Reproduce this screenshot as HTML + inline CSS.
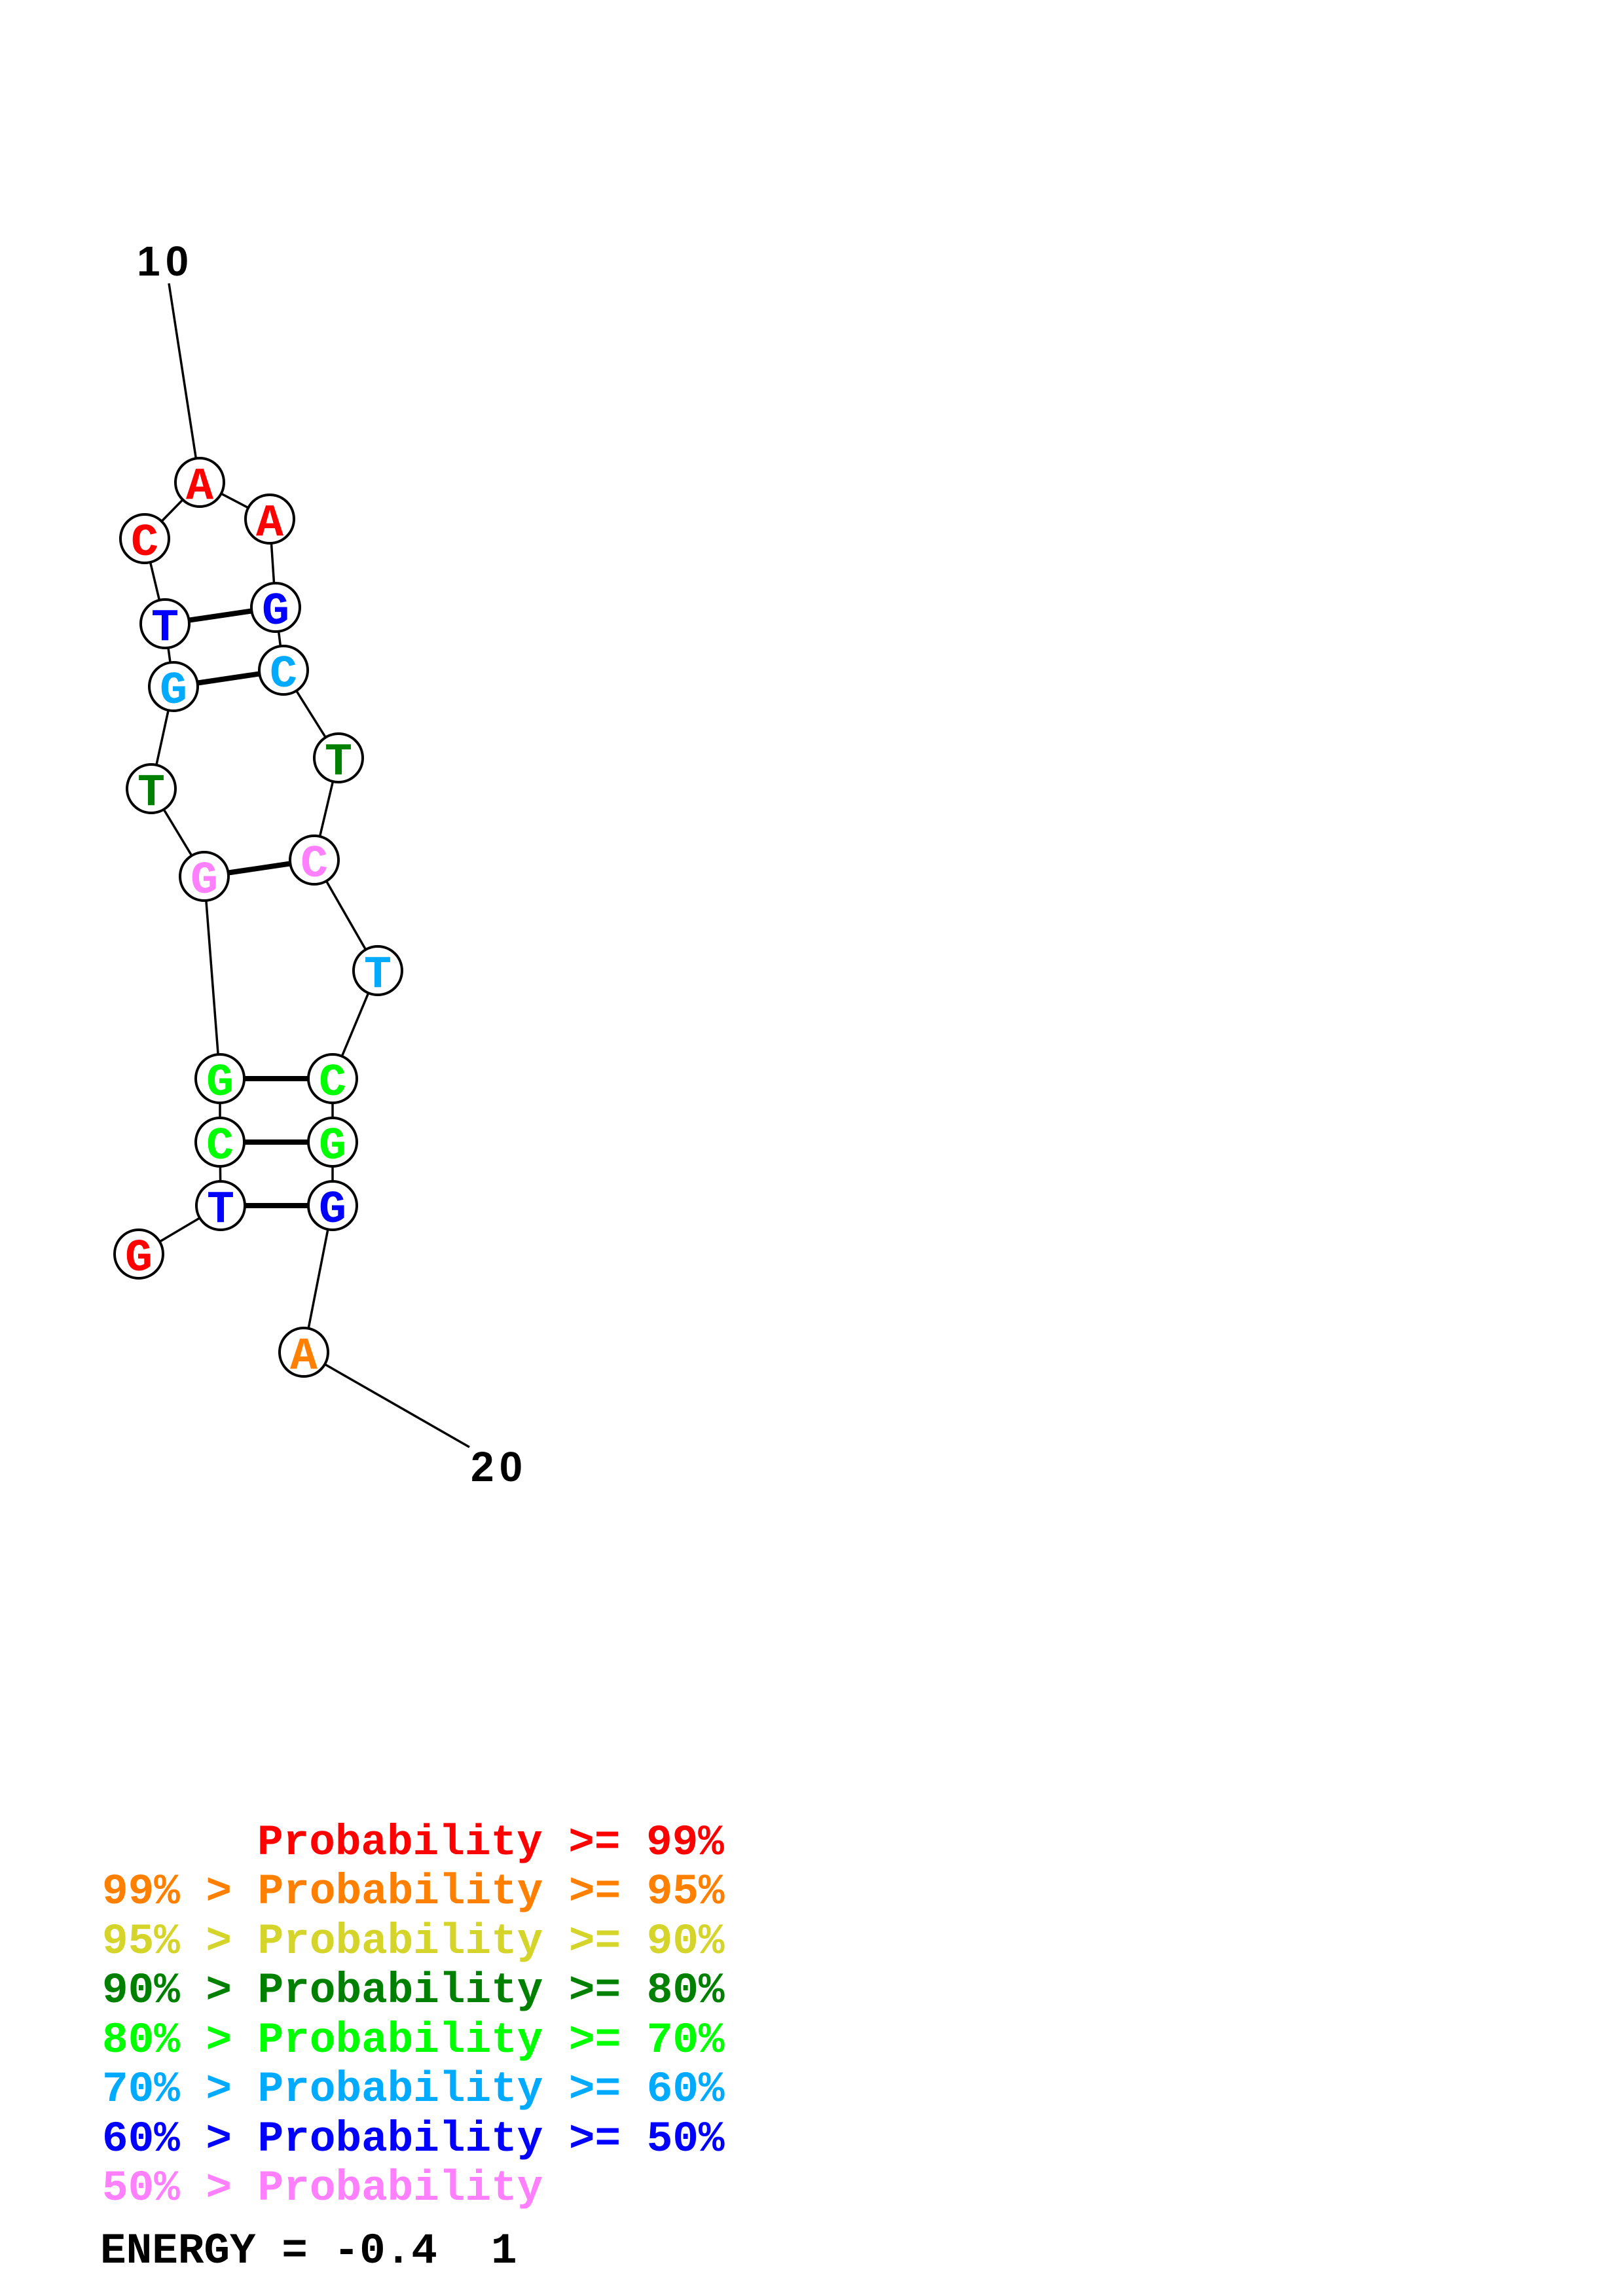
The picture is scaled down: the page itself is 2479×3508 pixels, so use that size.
<!DOCTYPE html>
<html><head><meta charset="utf-8"><style>
html,body{margin:0;padding:0;background:#fff;}
svg{display:block;}
.n{font-family:"Liberation Mono","DejaVu Sans Mono",monospace;font-weight:bold;font-size:70px;text-anchor:middle;}
.lg{font-family:"Liberation Mono","DejaVu Sans Mono",monospace;font-weight:bold;font-size:66px;}
.lb{font-family:"Liberation Sans","DejaVu Sans",sans-serif;font-weight:bold;font-size:64px;letter-spacing:8px;}
</style></head><body>
<svg width="2479" height="3508" viewBox="0 0 2479 3508" xmlns="http://www.w3.org/2000/svg" xml:space="preserve">
<g stroke="#000" stroke-width="3.5" fill="none">
<line x1="258" y1="433" x2="305" y2="737"/>
<line x1="305" y1="737" x2="221" y2="823"/>
<line x1="221" y1="823" x2="252" y2="953"/>
<line x1="252" y1="953" x2="265" y2="1049"/>
<line x1="265" y1="1049" x2="231" y2="1205"/>
<line x1="231" y1="1205" x2="312" y2="1339"/>
<line x1="312" y1="1339" x2="336" y2="1648"/>
<line x1="336" y1="1648" x2="336" y2="1745"/>
<line x1="336" y1="1745" x2="337" y2="1842"/>
<line x1="337" y1="1842" x2="212" y2="1916"/>
<line x1="305" y1="737" x2="412" y2="793"/>
<line x1="412" y1="793" x2="421" y2="928"/>
<line x1="421" y1="928" x2="433" y2="1024"/>
<line x1="433" y1="1024" x2="517" y2="1158"/>
<line x1="517" y1="1158" x2="480" y2="1314"/>
<line x1="480" y1="1314" x2="577" y2="1483"/>
<line x1="577" y1="1483" x2="508" y2="1648"/>
<line x1="508" y1="1648" x2="508" y2="1745"/>
<line x1="508" y1="1745" x2="508" y2="1842"/>
<line x1="508" y1="1842" x2="464" y2="2066"/>
<line x1="464" y1="2066" x2="717" y2="2211"/>
</g>
<g stroke="#000" stroke-width="8">
<line x1="252" y1="953" x2="421" y2="928"/>
<line x1="265" y1="1049" x2="433" y2="1024"/>
<line x1="312" y1="1339" x2="480" y2="1314"/>
<line x1="336" y1="1648" x2="508" y2="1648"/>
<line x1="336" y1="1745" x2="508" y2="1745"/>
<line x1="337" y1="1842" x2="508" y2="1842"/>
</g>
<g stroke="#000" stroke-width="4" fill="#fff">
<circle cx="305" cy="737" r="37"/>
<circle cx="412" cy="793" r="37"/>
<circle cx="221" cy="823" r="37"/>
<circle cx="421" cy="928" r="37"/>
<circle cx="252" cy="953" r="37"/>
<circle cx="433" cy="1024" r="37"/>
<circle cx="265" cy="1049" r="37"/>
<circle cx="517" cy="1158" r="37"/>
<circle cx="231" cy="1205" r="37"/>
<circle cx="480" cy="1314" r="37"/>
<circle cx="312" cy="1339" r="37"/>
<circle cx="577" cy="1483" r="37"/>
<circle cx="336" cy="1648" r="37"/>
<circle cx="508" cy="1648" r="37"/>
<circle cx="336" cy="1745" r="37"/>
<circle cx="508" cy="1745" r="37"/>
<circle cx="337" cy="1842" r="37"/>
<circle cx="508" cy="1842" r="37"/>
<circle cx="212" cy="1916" r="37"/>
<circle cx="464" cy="2066" r="37"/>
</g>
<g class="n">
<text x="305" y="762" fill="#ff0000">A</text>
<text x="412" y="818" fill="#ff0000">A</text>
<text x="221" y="848" fill="#ff0000">C</text>
<text x="421" y="953" fill="#0000ff">G</text>
<text x="252" y="978" fill="#0000ff">T</text>
<text x="433" y="1049" fill="#00aaff">C</text>
<text x="265" y="1074" fill="#00aaff">G</text>
<text x="517" y="1183" fill="#008000">T</text>
<text x="231" y="1230" fill="#008000">T</text>
<text x="480" y="1339" fill="#ff80ff">C</text>
<text x="312" y="1364" fill="#ff80ff">G</text>
<text x="577" y="1508" fill="#00aaff">T</text>
<text x="336" y="1673" fill="#00ff00">G</text>
<text x="508" y="1673" fill="#00ff00">C</text>
<text x="336" y="1770" fill="#00ff00">C</text>
<text x="508" y="1770" fill="#00ff00">G</text>
<text x="337" y="1867" fill="#0000ff">T</text>
<text x="508" y="1867" fill="#0000ff">G</text>
<text x="212" y="1941" fill="#ff0000">G</text>
<text x="464" y="2091" fill="#ff8000">A</text>
</g>
<text class="lb" x="209" y="421">10</text>
<text class="lb" x="719" y="2263">20</text>
<g class="lg">
<text x="393" y="2833" fill="#ff0000">Probability &gt;= 99%</text>
<text x="156" y="2908" fill="#ff8000">99% &gt; Probability &gt;= 95%</text>
<text x="156" y="2984" fill="#d4d42a">95% &gt; Probability &gt;= 90%</text>
<text x="156" y="3059" fill="#008000">90% &gt; Probability &gt;= 80%</text>
<text x="156" y="3135" fill="#00ff00">80% &gt; Probability &gt;= 70%</text>
<text x="156" y="3210" fill="#00aaff">70% &gt; Probability &gt;= 60%</text>
<text x="156" y="3286" fill="#0000ff">60% &gt; Probability &gt;= 50%</text>
<text x="156" y="3361" fill="#ff80ff">50% &gt; Probability</text>
<text x="153" y="3457" fill="#000">ENERGY = -0.4</text>
<text x="750" y="3457" fill="#000">1</text>
</g>
</svg>
</body></html>
